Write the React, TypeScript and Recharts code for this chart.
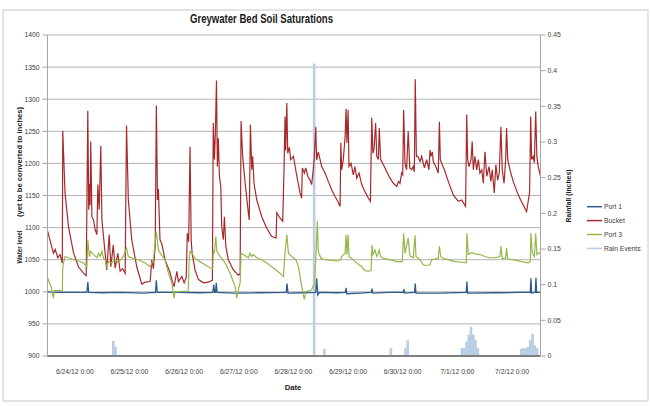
import { ComposedChart, Line, Bar, XAxis, YAxis, CartesianGrid } from "recharts";

// hours since 6/24/12 0:00
const dateTicks = [0, 24, 48, 72, 96, 120, 144, 168, 192];
const dateLabels = [
  "6/24/12 0:00",
  "6/25/12 0:00",
  "6/26/12 0:00",
  "6/27/12 0:00",
  "6/28/12 0:00",
  "6/29/12 0:00",
  "6/30/12 0:00",
  "7/1/12 0:00",
  "7/2/12 0:00",
];
const levelTicks = [900, 950, 1000, 1050, 1100, 1150, 1200, 1250, 1300, 1350, 1400];
const rainTicks = [0, 0.05, 0.1, 0.15, 0.2, 0.25, 0.3, 0.35, 0.4, 0.45];
const rainTickLabels = ["0", "0.05", "0.1", "0.15", "0.2", "0.25", "0.3", "0.35", "0.4", "0.45"];

const port1: [number, number][] = [
  [-11.9, 1000], [-8, 999], [0, 999], [5.3, 999], [5.7, 1015], [6.1, 999], [12, 998.5], [20, 999],
  [30, 998], [35.4, 999], [35.8, 1018], [36.2, 999], [45, 999], [55, 998.5], [60.6, 999], [61.0, 1011],
  [61.4, 999], [61.8, 999], [62.1, 1014], [62.5, 999], [70, 998], [80, 998.5], [92.8, 999], [93.2, 1013],
  [93.6, 998], [100, 998.5], [105.8, 999], [106.2, 1021], [106.7, 995], [107.4, 999], [115, 998.5],
  [118.8, 999], [119.1, 1006], [119.4, 997], [125, 998], [130.2, 999], [130.5, 1005], [130.8, 998],
  [138, 999], [144.2, 999], [144.5, 1004], [144.8, 998], [149.2, 999], [149.5, 1013], [149.8, 998],
  [160, 998], [171.9, 999], [172.2, 1016], [172.5, 998], [185, 998.5], [195, 999], [200.0, 999],
  [200.3, 1021], [200.6, 998], [202.2, 999], [202.5, 1022], [202.8, 999], [204.5, 999],
];

const bucket: [number, number][] = [
  [-11.9, 1094], [-9.4, 1060], [-8.6, 1066], [-7.5, 1053], [-6.5, 1058], [-5.5, 1045], [-5.3, 1251],
  [-4.3, 1154], [-2.8, 1102], [-0.6, 1061], [1.6, 1039], [3.8, 1029], [5.0, 1025], [5.7, 1282],
  [6.1, 1128], [6.4, 1168], [6.7, 1135], [7.0, 1234], [7.5, 1117], [8.2, 1112], [8.9, 1097], [9.7, 1089],
  [10.1, 1167], [10.7, 1128], [11.4, 1227], [11.9, 1112], [13.0, 1071], [14.0, 1034], [15.1, 1089],
  [15.8, 1039], [16.9, 1073], [17.7, 1037], [18.9, 1060], [19.9, 1032], [21.0, 1036], [22.1, 1029],
  [22.7, 1259], [23.5, 1143], [25.0, 1081], [27.2, 1039], [29.4, 1012], [30.9, 1015], [33.1, 1016],
  [33.8, 1050], [34.5, 1036], [35.3, 1071], [35.8, 1290], [36.3, 1143], [36.7, 1160], [37.4, 1081],
  [38.2, 1075], [39.6, 1050], [41.8, 1030], [42.6, 1019], [43.6, 1008], [44.8, 1032], [45.5, 1016],
  [47.0, 1024], [48.0, 1014], [48.9, 1022], [49.4, 1091], [50.0, 1078], [50.6, 1226], [51.1, 1081],
  [51.5, 1060], [52.8, 1034], [54.3, 1019], [56.5, 1014], [58.6, 1015], [60.4, 1018], [60.8, 1263],
  [61.3, 1206], [61.7, 1245], [62.2, 1329], [62.6, 1195], [63.0, 1239], [63.5, 1180], [64.1, 1164],
  [64.5, 1102], [65.2, 1081], [65.7, 1117], [66.3, 1071], [67.4, 1050], [69.6, 1034], [71.8, 1026],
  [72.6, 1028], [73.0, 1266], [73.7, 1211], [74.8, 1169], [76.2, 1123], [76.6, 1112], [77.1, 1260],
  [77.7, 1190], [78.1, 1211], [78.7, 1169], [79.9, 1143], [82.1, 1117], [84.3, 1099], [86.5, 1086],
  [88.4, 1084], [88.7, 1123], [90.1, 1115], [91.3, 1110], [91.9, 1195], [92.3, 1273], [92.6, 1220],
  [93.1, 1294], [93.5, 1216], [94.2, 1225], [94.8, 1206], [96.0, 1211], [97.5, 1180], [98.9, 1154],
  [99.6, 1146], [99.9, 1193], [100.8, 1185], [101.4, 1193], [102.3, 1180], [103.3, 1174], [104.0, 1167],
  [104.7, 1190], [105.2, 1211], [105.8, 1257], [106.2, 1205], [106.9, 1218], [107.7, 1206], [108.4, 1195],
  [109.9, 1185], [111.3, 1172], [112.8, 1159], [114.3, 1148], [115.5, 1141], [116.5, 1133], [116.8, 1232],
  [117.2, 1190], [117.9, 1206], [118.7, 1242], [119.1, 1285], [119.5, 1232], [120.0, 1283], [120.4, 1195],
  [121.3, 1200], [122.3, 1182], [123.0, 1195], [123.8, 1177], [124.8, 1185], [126.0, 1167], [127.4, 1156],
  [128.9, 1146], [129.8, 1141], [130.4, 1271], [130.9, 1216], [131.4, 1222], [132.1, 1263], [132.6, 1211],
  [133.3, 1206], [133.7, 1255], [134.3, 1206], [135.5, 1198], [137.0, 1187], [138.4, 1177], [139.9, 1169],
  [141.4, 1164], [142.1, 1172], [142.8, 1169], [143.5, 1185], [144.0, 1182], [144.4, 1283], [145.0, 1200],
  [145.7, 1190], [146.4, 1250], [147.1, 1193], [147.9, 1190], [148.6, 1195], [149.1, 1187], [149.5, 1331],
  [150.0, 1211], [150.6, 1211], [151.6, 1203], [152.3, 1211], [153.5, 1193], [154.5, 1206], [155.5, 1190],
  [156.0, 1221], [156.4, 1211], [157.0, 1218], [157.4, 1203], [158.5, 1195], [159.6, 1185], [160.1, 1265],
  [160.5, 1206], [161.1, 1200], [162.3, 1190], [164.0, 1172], [166.2, 1151], [168.4, 1141], [169.9, 1143],
  [171.6, 1133], [172.1, 1276], [172.5, 1206], [173.1, 1195], [174.0, 1206], [174.5, 1234], [175.0, 1190],
  [175.7, 1211], [176.5, 1190], [177.2, 1206], [177.9, 1185], [178.7, 1190], [179.4, 1169], [180.1, 1218],
  [180.9, 1180], [181.9, 1195], [182.7, 1172], [183.3, 1190], [184.2, 1154], [184.9, 1198], [185.7, 1174],
  [186.4, 1185], [187.1, 1257], [187.7, 1190], [188.5, 1169], [189.2, 1206], [189.6, 1255], [190.1, 1206],
  [191.1, 1190], [192.5, 1172], [194.7, 1151], [196.5, 1138], [198.4, 1125], [199.1, 1141], [199.7, 1154],
  [200.2, 1273], [200.6, 1206], [201.3, 1211], [201.8, 1201], [202.4, 1281], [202.9, 1211], [203.5, 1195],
  [204.5, 1180],
];

const port3: [number, number][] = [
  [-11.9, 1021], [-10.4, 1008], [-9.4, 990], [-9.0, 1002], [-5.5, 1002], [-5.3, 1039], [-4.3, 1055],
  [-2.8, 1053], [-0.6, 1050], [1.6, 1048], [3.8, 1045], [5.3, 1039], [5.7, 1081], [6.4, 1055], [7.0, 1063],
  [8.2, 1058], [9.7, 1053], [10.4, 1060], [11.1, 1055], [11.9, 1063], [12.6, 1052], [13.3, 1050],
  [14.0, 1039], [14.8, 1047], [16.2, 1045], [17.7, 1050], [19.1, 1045], [21.3, 1055], [22.7, 1068],
  [23.5, 1055], [25.7, 1052], [27.9, 1050], [30.9, 1045], [33.1, 1039], [34.5, 1050], [35.8, 1094],
  [36.7, 1065], [37.9, 1058], [39.6, 1050], [41.1, 1029], [42.6, 1014], [43.6, 990], [44.0, 1000],
  [49.8, 1001], [50.2, 1050], [50.6, 1063], [51.4, 1060], [52.8, 1052], [55.0, 1047], [57.2, 1042],
  [59.4, 1037], [60.6, 1036], [60.8, 1065], [61.3, 1060], [61.9, 1086], [62.4, 1063], [63.8, 1055],
  [66.0, 1045], [68.2, 1029], [70.4, 1008], [71.1, 990], [71.8, 1003], [72.6, 1014], [73.0, 1060],
  [74.0, 1058], [76.2, 1053], [76.9, 1060], [77.7, 1055], [78.4, 1058], [79.9, 1053], [82.1, 1050],
  [84.3, 1045], [87.2, 1037], [90.1, 1029], [91.6, 1024], [92.3, 1060], [93.1, 1089], [93.8, 1060],
  [95.3, 1055], [97.1, 1050], [98.2, 1039], [98.9, 1024], [99.9, 1003], [100.8, 988], [101.4, 1000],
  [104.0, 1003], [105.2, 1014], [105.8, 1050], [106.5, 1110], [106.9, 1063], [108.1, 1052], [109.9, 1050],
  [112.8, 1049], [115.5, 1048], [116.8, 1050], [117.2, 1055], [118.7, 1060], [119.1, 1089], [119.5, 1058],
  [120.0, 1089], [120.4, 1055], [121.6, 1052], [123.0, 1047], [126.0, 1039], [127.4, 1033], [129.0, 1032],
  [130.1, 1033], [130.5, 1073], [130.9, 1058], [131.8, 1065], [132.6, 1055], [133.7, 1065], [134.2, 1055],
  [135.5, 1052], [138.4, 1050], [141.4, 1047], [143.8, 1047], [144.4, 1091], [145.0, 1060], [146.4, 1084],
  [147.1, 1056], [148.6, 1053], [149.4, 1088], [149.8, 1055], [151.6, 1050], [153.0, 1042], [154.5, 1041],
  [156.0, 1042], [156.7, 1050], [159.6, 1052], [160.1, 1071], [160.7, 1055], [161.8, 1052], [164.0, 1050],
  [166.9, 1047], [169.9, 1046], [171.9, 1045], [172.2, 1091], [172.8, 1058], [174.3, 1061], [175.7, 1059],
  [177.9, 1058], [180.1, 1055], [182.3, 1053], [184.5, 1053], [186.7, 1055], [187.1, 1071], [187.7, 1052],
  [189.2, 1052], [189.6, 1068], [190.1, 1051], [192.5, 1050], [196.2, 1047], [199.1, 1045], [200.0, 1047],
  [200.3, 1091], [200.9, 1060], [201.8, 1055], [202.4, 1091], [202.9, 1058], [204.5, 1062],
];

const rainEvents: [number, number][] = [
  [16.9, 0.021], [17.9, 0.013], [105.1, 0.41], [109.6, 0.01], [138.8, 0.011], [145.2, 0.011],
  [146.2, 0.022], [170, 0.011], [171, 0.011], [172, 0.02], [173, 0.03], [174, 0.041], [175, 0.03],
  [176, 0.022], [177, 0.011], [196, 0.01], [197, 0.011], [198, 0.011], [199, 0.013], [200, 0.022],
  [201, 0.031], [202, 0.015], [203, 0.011],
];

const FONT = "'Liberation Sans', Arial, sans-serif";
const TEXT = "#404040";

const series = [
  { name: "Port 1", color: "#2b5b8b" },
  { name: "Bucket", color: "#a8292b" },
  { name: "Port 3", color: "#94b84a" },
  { name: "Rain Events", color: "#b9cde5" },
];

const toRows = (pts: [number, number][], key: string) => pts.map(([t, v]) => ({ t, [key]: v }));

// keep each rain column a steady width, centred on the x position recharts gives it
const RainColumn = (props: any) => {
  const { x, y, width, height, fill } = props;
  if (height == null || height <= 0) return null;
  const cx = x + width / 2;
  return <rect x={cx - 1.3} y={y} width={2.6} height={height} fill={fill} />;
};

const App = () => {
  const rainData = toRows(rainEvents, "rain");
  const tickStyle = { fontSize: 6.8, fill: TEXT, fontFamily: FONT };

  return (
    <div style={{ position: "absolute", left: 0, top: 0, width: 650, height: 406, background: "#fff" }}>
      <ComposedChart width={650} height={406} data={rainData} margin={{ top: 35, right: 69.5, bottom: 20, left: 7.5 }}>
        <CartesianGrid vertical={false} stroke="#b4b4b4" />
        <XAxis
          dataKey="t"
          type="number"
          domain={[-12, 204.5]}
          allowDataOverflow
          ticks={dateTicks}
          interval={0}
          tickFormatter={(v: number) => dateLabels[dateTicks.indexOf(v)] ?? ""}
          tickLine={false}
          tickSize={0}
          tickMargin={13}
          height={30}
          axisLine={{ stroke: "#7f7f7f", strokeWidth: 2 }}
          tick={tickStyle}
        />
        <YAxis
          domain={[900, 1400]}
          ticks={levelTicks}
          interval={0}
          allowDataOverflow
          width={40}
          tickSize={5}
          tickMargin={3}
          axisLine={{ stroke: "#a6a6a6" }}
          tickLine={{ stroke: "#a6a6a6" }}
          tick={tickStyle}
        />
        <YAxis
          yAxisId="right"
          orientation="right"
          domain={[0, 0.45]}
          ticks={rainTicks}
          interval={0}
          allowDataOverflow
          width={40}
          tickSize={5}
          tickMargin={2}
          tickFormatter={(v: number) => rainTickLabels[rainTicks.indexOf(v)] ?? String(v)}
          axisLine={{ stroke: "#a6a6a6" }}
          tickLine={{ stroke: "#a6a6a6" }}
          tick={tickStyle}
        />
        <Bar
          yAxisId="right"
          dataKey="rain"
          name="Rain Events"
          fill={series[3].color}
          barSize={2}
          shape={RainColumn}
          isAnimationActive={false}
        />
        <Line data={toRows(port1, "port1")} dataKey="port1" name="Port 1" stroke={series[0].color} strokeWidth={1.3} dot={false} isAnimationActive={false} />
        <Line data={toRows(bucket, "bucket")} dataKey="bucket" name="Bucket" stroke={series[1].color} strokeWidth={1.2} dot={false} isAnimationActive={false} />
        <Line data={toRows(port3, "port3")} dataKey="port3" name="Port 3" stroke={series[2].color} strokeWidth={1.2} dot={false} isAnimationActive={false} />
      </ComposedChart>

      <svg width={650} height={406} style={{ position: "absolute", left: 0, top: 0, pointerEvents: "none" }}>
        <rect x={3} y={10} width={645} height={391} fill="none" stroke="#c8c8c8" />
        <text x={261.5} y={22.5} textAnchor="middle" fontFamily={FONT} fontWeight="bold" fontSize={12} fill="#1a1a1a" textLength={143} lengthAdjust="spacingAndGlyphs">
          Greywater Bed Soil Saturations
        </text>
        <g fontFamily={FONT} fontWeight="bold" fontSize={7} fill="#1a1a1a">
          <text transform="translate(21.5,247) rotate(-90)" textAnchor="middle" textLength={33} lengthAdjust="spacingAndGlyphs">
            Water level
          </text>
          <text transform="translate(21.5,162) rotate(-90)" textAnchor="middle" textLength={110} lengthAdjust="spacingAndGlyphs">
            (yet to be converted to inches)
          </text>
          <text transform="translate(570.5,196) rotate(-90)" textAnchor="middle" textLength={53} lengthAdjust="spacingAndGlyphs">
            Rainfall (inches)
          </text>
          <text x={293} y={390} textAnchor="middle" fontSize={7.7}>
            Date
          </text>
        </g>
        {series.map((s, i) => (
          <g key={s.name}>
            <line x1={587} x2={602} y1={206.7 + i * 13.9} y2={206.7 + i * 13.9} stroke={s.color} strokeWidth={1.5} />
            <text x={604} y={206.7 + i * 13.9 + 2.4} fontFamily={FONT} fontSize={6.8} fill={TEXT}>
              {s.name}
            </text>
          </g>
        ))}
      </svg>
    </div>
  );
};

export default App;
